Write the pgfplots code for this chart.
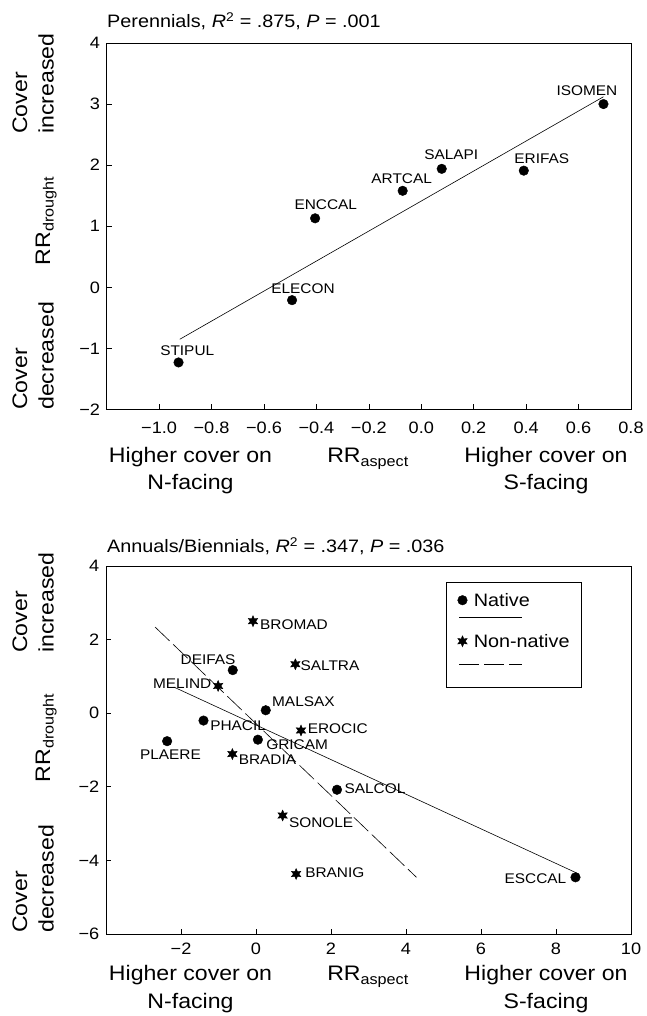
\documentclass[border=0pt]{standalone}
\usepackage{fontspec}
\setmainfont{Liberation Sans}[FakeStretch=1.1]
\usepackage{pgfplots}
\usepackage{pgfplotstable}
\pgfplotsset{compat=1.18}

% six-pointed filled star for the non-native species
\pgfdeclareplotmark{star6}{%
  \pgfpathmoveto{\pgfpointpolar{90}{\pgfplotmarksize}}%
  \pgfpathlineto{\pgfpointpolar{120}{0.5\pgfplotmarksize}}%
  \pgfpathlineto{\pgfpointpolar{150}{\pgfplotmarksize}}%
  \pgfpathlineto{\pgfpointpolar{180}{0.5\pgfplotmarksize}}%
  \pgfpathlineto{\pgfpointpolar{210}{\pgfplotmarksize}}%
  \pgfpathlineto{\pgfpointpolar{240}{0.5\pgfplotmarksize}}%
  \pgfpathlineto{\pgfpointpolar{270}{\pgfplotmarksize}}%
  \pgfpathlineto{\pgfpointpolar{300}{0.5\pgfplotmarksize}}%
  \pgfpathlineto{\pgfpointpolar{330}{\pgfplotmarksize}}%
  \pgfpathlineto{\pgfpointpolar{0}{0.5\pgfplotmarksize}}%
  \pgfpathlineto{\pgfpointpolar{30}{\pgfplotmarksize}}%
  \pgfpathlineto{\pgfpointpolar{60}{0.5\pgfplotmarksize}}%
  \pgfpathclose
  \pgfusepathqfillstroke}

\pgfplotstableread{
x y
-0.926 -1.23
-0.493 -0.21
-0.405 1.13
-0.071 1.58
0.078 1.94
0.391 1.91
0.695 3.00
}\perennials

\pgfplotstableread{
x y
-0.62 1.17
0.26 0.08
-1.40 -0.20
-2.37 -0.76
0.05 -0.72
2.16 -2.08
8.52 -4.46
}\natives

\pgfplotstableread{
x y
-0.08 2.50
1.05 1.33
-1.01 0.74
1.20 -0.47
-0.63 -1.11
0.71 -2.78
1.07 -4.37
}\nonnatives

\newcommand\tickfont{\fontsize{16.5}{19}\selectfont}
\newcommand\titlefont{\fontsize{18}{21}\selectfont}
\newcommand\labfont{\fontsize{21}{26.5}\selectfont}
\newcommand\legfont{\fontsize{18}{21}\selectfont}

\pgfplotsset{
  panel/.style={scale only axis, anchor=south west, clip=false,
    tick align=inside, xtick pos=left, ytick pos=left,
    major tick length=5pt,
    tick style={black, line width=0.6pt},
    axis line style={black, line width=0.7pt},
    ticklabel style={font=\tickfont, inner sep=0pt},
    xticklabel style={anchor=base},
    yticklabel style={anchor=east, xshift=-6.5pt}},
}
\tikzset{spec/.style={font=\fontsize{14}{16}\selectfont, inner sep=0pt}}

\begin{document}
\begin{tikzpicture}[x=1pt,y=1pt]
\path[use as bounding box] (0pt,0pt) rectangle (646pt,1016pt);

% ---------- Perennials ----------
\begin{axis}[panel, at={(106.7pt,606.5pt)}, width=524.3pt, height=366.5pt,
  xmin=-1.2, xmax=0.8, ymin=-2, ymax=4,
  xtick={-1,-0.8,-0.6,-0.4,-0.2,0,0.2,0.4,0.6,0.8},
  xticklabels={−1.0,−0.8,−0.6,−0.4,−0.2,0.0,0.2,0.4,0.6,0.8},
  ytick={-2,-1,0,1,2,3,4},
  yticklabels={−2,−1,0,1,2,3,4},
  xticklabel style={yshift=-24.5pt}]
\addplot[black, line width=0.6pt] coordinates {(-0.921,-0.85) (0.695,3.12)};
\addplot[only marks, mark=*, mark size=4.8pt, black] table[x=x,y=y] {\perennials};
\node[spec, anchor=base, xshift=8.7pt, yshift=7pt] at (axis cs:-0.926,-1.23) {STIPUL};
\node[spec, anchor=base, xshift=11pt, yshift=7pt] at (axis cs:-0.493,-0.21) {ELECON};
\node[spec, anchor=base, xshift=10.7pt, yshift=9pt] at (axis cs:-0.405,1.13) {ENCCAL};
\node[spec, anchor=base, xshift=-1pt, yshift=7pt] at (axis cs:-0.071,1.58) {ARTCAL};
\node[spec, anchor=base, xshift=9.5pt, yshift=9pt] at (axis cs:0.078,1.94) {SALAPI};
\node[spec, anchor=base, xshift=18pt, yshift=7pt] at (axis cs:0.391,1.91) {ERIFAS};
\node[spec, anchor=base, xshift=-16.5pt, yshift=9pt] at (axis cs:0.695,3.00) {ISOMEN};
\end{axis}

\node[anchor=base west, inner sep=0pt, font=\titlefont] at (107pt,988pt)
  {Perennials, \textit{R}\textsuperscript{2} = .875, \textit{P} = .001};
\node[rotate=90, anchor=south west, align=left, inner sep=0pt, font=\labfont] at (54pt,882pt) {Cover\\increased};
\node[rotate=90, anchor=base, inner sep=0pt, font=\labfont] at (50pt,795pt) {RR\textsubscript{drought}};
\node[rotate=90, anchor=south west, align=left, inner sep=0pt, font=\labfont] at (54pt,606pt) {Cover\\decreased};
\node[anchor=base, inner sep=0pt, font=\labfont] at (190.5pt,553pt) {Higher cover on};
\node[anchor=base, inner sep=0pt, font=\labfont] at (190.5pt,526pt) {N-facing};
\node[anchor=base, inner sep=0pt, font=\labfont] at (368pt,553pt) {RR\textsubscript{aspect}};
\node[anchor=base, inner sep=0pt, font=\labfont] at (546pt,553pt) {Higher cover on};
\node[anchor=base, inner sep=0pt, font=\labfont] at (546pt,526pt) {S-facing};

% ---------- Annuals/Biennials ----------
\begin{axis}[panel, at={(106pt,82pt)}, width=525pt, height=368pt,
  xmin=-4, xmax=10, ymin=-6, ymax=4,
  xtick={-2,0,2,4,6,8,10},
  xticklabels={−2,0,2,4,6,8,10},
  ytick={-6,-4,-2,0,2,4},
  yticklabels={−6,−4,−2,0,2,4},
  xticklabel style={yshift=-21pt},
  legend cell align=left,
  legend style={at={(0.6695,0.9253)}, anchor=north west, draw=none, fill=none,
    inner sep=0pt, column sep=6.5pt, row sep=28pt, font=\legfont,
    nodes={inner sep=0pt, text depth=0pt}}]
\addplot[forget plot, black, line width=0.6pt] coordinates {(-2.19,0.71) (8.61,-4.37)};
\addplot[forget plot, black, line width=0.6pt, dash pattern=on 20pt off 5pt] coordinates {(-2.69,2.34) (4.28,-4.46)};
\addplot[forget plot, only marks, mark=*, mark size=4.8pt, black] table[x=x,y=y] {\natives};
\addplot[forget plot, only marks, mark=star6, mark size=5.5pt, black] table[x=x,y=y] {\nonnatives};

\addlegendimage{legend image code/.code={%
  \draw[black, mark=*, mark size=4.8pt] plot coordinates {(0pt,0pt)};
  \draw[overlay, black, line width=0.6pt] (-3pt,-17pt) -- (60pt,-17pt);}}
\addlegendentry{Native}
\addlegendimage{legend image code/.code={%
  \draw[black, mark=star6, mark size=5.5pt] plot coordinates {(0pt,0pt)};
  \draw[overlay, black, line width=0.6pt, dash pattern=on 20pt off 5pt] (-3pt,-23pt) -- (60pt,-23pt);}}
\addlegendentry{Non-native}
\draw[black, line width=0.7pt] (rel axis cs:0.6476,0.9565) rectangle (rel axis cs:0.9048,0.6712);

\node[spec, anchor=west, xshift=7pt, yshift=-3.3pt] at (axis cs:-0.08,2.50) {BROMAD};
\node[spec, anchor=west, xshift=5pt, yshift=-1pt] at (axis cs:1.05,1.33) {SALTRA};
\node[spec, anchor=east, xshift=-6.6pt, yshift=2.7pt] at (axis cs:-1.01,0.74) {MELIND};
\node[spec, anchor=center, xshift=-24.7pt, yshift=10pt] at (axis cs:-0.62,1.17) {DEIFAS};
\node[spec, anchor=west, xshift=6.2pt, yshift=8.3pt] at (axis cs:0.26,0.08) {MALSAX};
\node[spec, anchor=west, xshift=6.6pt, yshift=-5.3pt] at (axis cs:-1.40,-0.20) {PHACIL};
\node[spec, anchor=west, xshift=6.6pt, yshift=2.3pt] at (axis cs:1.20,-0.47) {EROCIC};
\node[spec, anchor=west, xshift=8.2pt, yshift=-4.7pt] at (axis cs:0.05,-0.72) {GRICAM};
\node[spec, anchor=center, xshift=3.3pt, yshift=-14pt] at (axis cs:-2.37,-0.76) {PLAERE};
\node[spec, anchor=west, xshift=6.2pt, yshift=-6pt] at (axis cs:-0.63,-1.11) {BRADIA};
\node[spec, anchor=west, xshift=7.4pt, yshift=0.7pt] at (axis cs:2.16,-2.08) {SALCOL};
\node[spec, anchor=west, xshift=6.2pt, yshift=-7.3pt] at (axis cs:0.71,-2.78) {SONOLE};
\node[spec, anchor=west, xshift=9pt, yshift=1.7pt] at (axis cs:1.07,-4.37) {BRANIG};
\node[spec, anchor=east, xshift=-9pt, yshift=-1pt] at (axis cs:8.52,-4.46) {ESCCAL};
\end{axis}

\node[anchor=base west, inner sep=0pt, font=\titlefont] at (107pt,463pt)
  {Annuals/Biennials, \textit{R}\textsuperscript{2} = .347, \textit{P} = .036};
\node[rotate=90, anchor=south west, align=left, inner sep=0pt, font=\labfont] at (54pt,363pt) {Cover\\increased};
\node[rotate=90, anchor=base, inner sep=0pt, font=\labfont] at (50pt,278pt) {RR\textsubscript{drought}};
\node[rotate=90, anchor=south west, align=left, inner sep=0pt, font=\labfont] at (54pt,83pt) {Cover\\decreased};
\node[anchor=base, inner sep=0pt, font=\labfont] at (190.5pt,35pt) {Higher cover on};
\node[anchor=base, inner sep=0pt, font=\labfont] at (190.5pt,8pt) {N-facing};
\node[anchor=base, inner sep=0pt, font=\labfont] at (368pt,35pt) {RR\textsubscript{aspect}};
\node[anchor=base, inner sep=0pt, font=\labfont] at (546pt,35pt) {Higher cover on};
\node[anchor=base, inner sep=0pt, font=\labfont] at (546pt,8pt) {S-facing};
\end{tikzpicture}
\end{document}
